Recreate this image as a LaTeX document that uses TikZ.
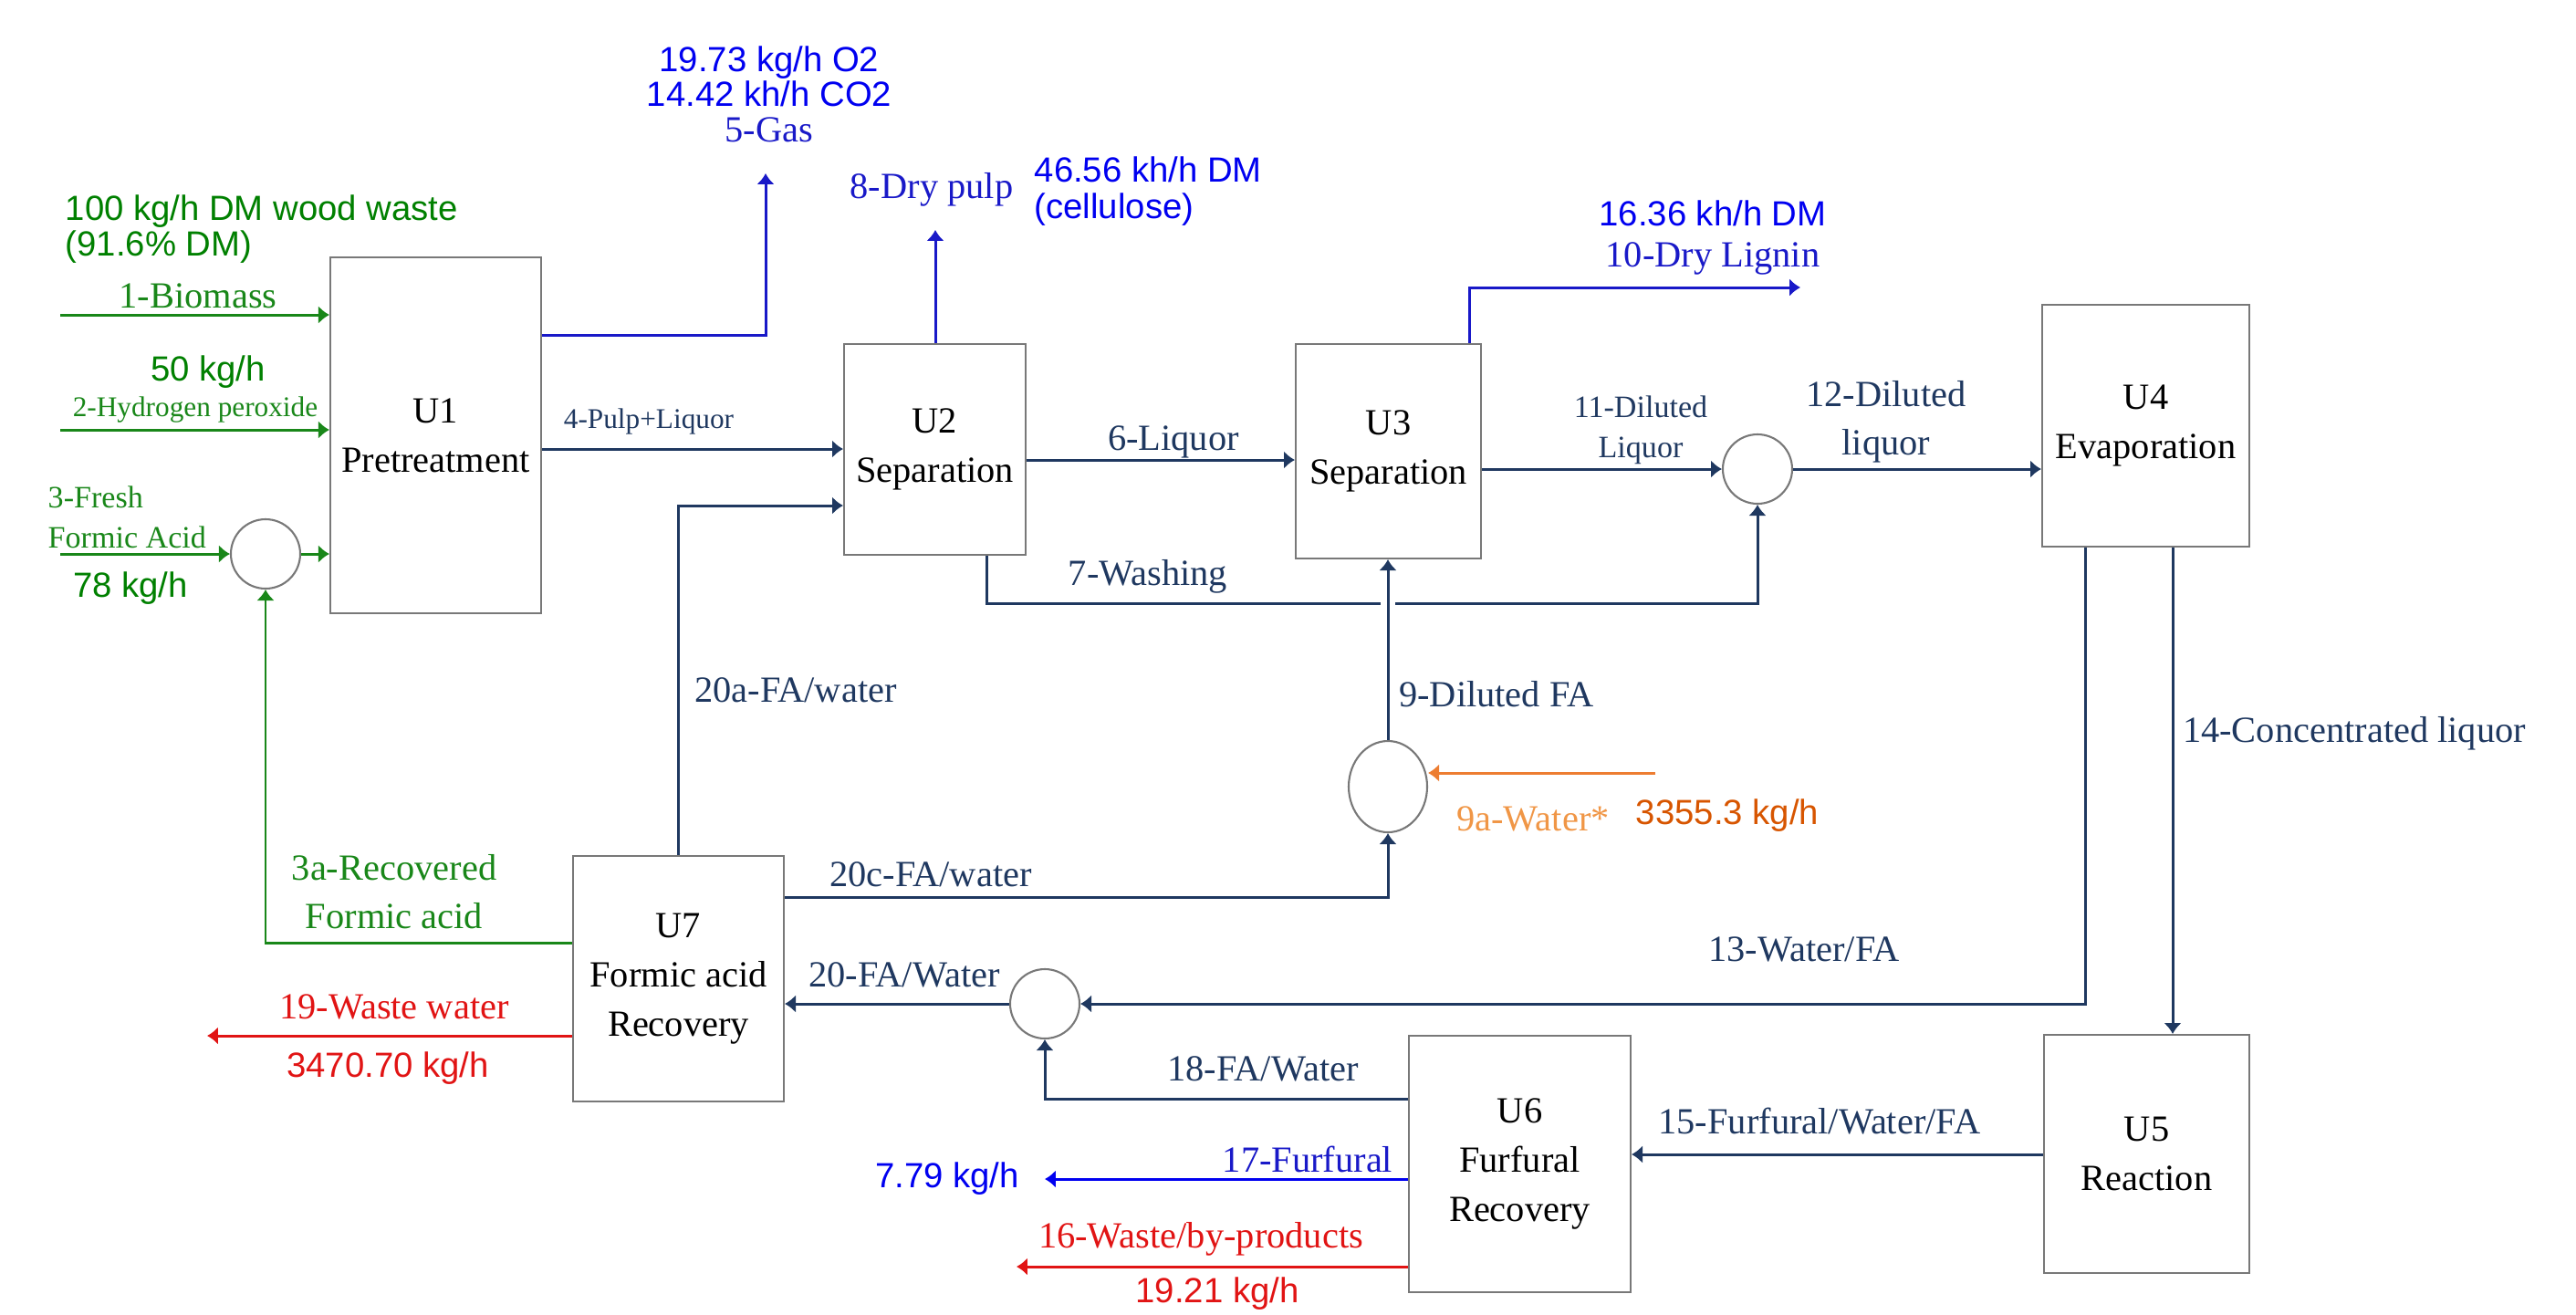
\documentclass[tikz,border=0pt]{standalone}
\usepackage{fontspec}
\setmainfont{Liberation Serif}
\setsansfont{Liberation Sans}
\usetikzlibrary{arrows.meta,shapes.geometric}

\definecolor{flow}{RGB}{31,56,96}
\definecolor{boxgray}{RGB}{120,120,120}
\definecolor{fgreen}{RGB}{25,135,25}
\definecolor{ngreen}{RGB}{0,128,0}
\definecolor{fblue}{RGB}{25,25,200}
\definecolor{nblue}{RGB}{0,0,240}
\definecolor{fred}{RGB}{225,20,20}
\definecolor{forange}{RGB}{237,125,49}
\definecolor{lorange}{RGB}{240,150,70}
\definecolor{dorange}{RGB}{215,85,0}

\tikzset{
  unit/.style={draw=boxgray, line width=0.6pt, align=center, inner sep=0pt,
    font=\fontsize{11.5}{15.3}\selectfont},
  mixer/.style={circle, draw=boxgray, line width=0.6pt, minimum size=0.76cm, inner sep=0pt},
  stream/.style={draw=flow, line width=0.85pt, -{Latex[length=3.4pt,width=5.6pt]}},
  feed/.style={stream, draw=fgreen},
  gasline/.style={stream, draw=fblue},
  redline/.style={stream, draw=fred},
  waterline/.style={stream, draw=forange},
  lbl/.style={text=flow, inner sep=0pt, align=center, font=\fontsize{11.5}{15}\selectfont},
  lblmid/.style={lbl, font=\fontsize{9.7}{12.5}\selectfont},
  lblsmall/.style={lbl, font=\fontsize{8.9}{11}\selectfont},
  num/.style={inner sep=0pt, align=center, font=\sffamily\fontsize{10.9}{11}\selectfont}
}

\begin{document}
\begin{tikzpicture}
    \useasboundingbox (0,0) rectangle (28.23,-14.40);

    % process units
    \node[unit, minimum width=2.31cm, minimum height=3.90cm] (U1) at (4.775,-4.77) {U1\\Pretreatment};
    \node[unit, minimum width=1.99cm, minimum height=2.31cm] (U2) at (10.245,-4.925) {U2\\Separation};
    \node[unit, minimum width=2.03cm, minimum height=2.35cm] (U3) at (15.215,-4.945) {U3\\Separation};
    \node[unit, minimum width=2.27cm, minimum height=2.65cm] (U4) at (23.515,-4.665) {U4\\Evaporation};
    \node[unit, minimum width=2.25cm, minimum height=2.61cm] (U5) at (23.525,-12.645) {U5\\Reaction};
    \node[unit, minimum width=2.43cm, minimum height=2.81cm] (U6) at (16.655,-12.755) {U6\\Furfural\\Recovery};
    \node[unit, minimum width=2.31cm, minimum height=2.69cm] (U7) at (7.435,-10.725) {U7\\Formic acid\\Recovery};

    % mixers
    \node[mixer] (m1) at (2.91,-6.07) {};
    \node[mixer] (m2) at (19.26,-5.14) {};
    \node[mixer, ellipse, minimum width=0.86cm, minimum height=1.0cm] (m3) at (15.21,-8.62) {};
    \node[mixer] (m4) at (11.45,-11.0) {};

    % feeds
    \coordinate (s1) at (0.66,-3.45);
    \coordinate (s2) at (0.66,-4.71);
    \coordinate (s3) at (0.66,-6.07);
    \draw[feed] (s1) -- (s1 -| U1.west);
    \draw[feed] (s2) -- (s2 -| U1.west);
    \draw[feed] (s3) -- (m1);
    \draw[feed] (m1) -- (m1 -| U1.west);
    \draw[feed] (U7.west |- 0,-10.33) -| (m1);

    % products
    \coordinate (gas) at (8.39,-1.90);
    \coordinate (pulp) at (10.25,-2.52);
    \coordinate (lig) at (19.73,-3.15);
    \draw[gasline] (U1.east |- 0,-3.67) -| (gas);
    \draw[gasline] (U2.north -| pulp) -- (pulp);
    \draw[gasline] (U3.north -| 16.10,0) |- (lig);

    % main streams
    \draw[stream] (U1.east |- 0,-4.92) -- (U2.west |- 0,-4.92);
    \draw[stream] (U2.east |- 0,-5.04) -- (U3.west |- 0,-5.04);
    \draw[stream] (U3.east |- m2) -- (m2);
    \draw[stream] (m2) -- (m2 -| U4.west);
    \draw[stream] (U2.south -| 10.81,0) |- (m2 |- 0,-6.61) -- (m2);
    \coordinate (cross) at (m3 |- 0,-6.61);
    \draw[white, line width=2.2pt] ([xshift=-0.08cm]cross) -- ([xshift=0.08cm]cross);
    \draw[stream] (m3) -- (m3 |- U3.south);
    \coordinate (wat) at (18.14,-8.47);
    \draw[waterline] (wat) -- (m3.east |- wat);
    \draw[stream] (U7.east |- 0,-9.83) -| (m3);
    \draw[stream] (U7.north) |- (U2.west |- 0,-5.54);
    \draw[stream] (U4.south -| 22.85,0) |- (m4);
    \draw[stream] (U4.south -| 23.81,0) -- (U5.north -| 23.81,0);
    \draw[stream] (U5.west |- 0,-12.65) -- (U6.east |- 0,-12.65);
    \draw[stream] (U6.west |- 0,-12.04) -| (m4);
    \draw[stream] (m4) -- (m4 -| U7.east);

    % outlets
    \coordinate (furf) at (11.45,-12.92);
    \coordinate (byp) at (11.14,-13.88);
    \coordinate (ww) at (2.27,-11.35);
    \draw[gasline, draw=nblue] (U6.west |- furf) -- (furf);
    \draw[redline] (U6.west |- byp) -- (byp);
    \draw[redline] (U7.west |- ww) -- (ww);

    % labels
    \node[num, text=nblue] (tgas) at (8.43,-1.03) {19.73 kg/h O2\\14.42 kh/h CO2\\\rmfamily\fontsize{11.5}{11}\selectfont\color{fblue}5-Gas};
    \node[lbl, text=fblue] (tpulp) at (10.21,-2.08) {8-Dry pulp};
    \node[num, text=nblue, align=left, anchor=west, font=\sffamily\fontsize{10.9}{11.4}\selectfont] (tcell) at (11.33,-2.10) {46.56 kh/h DM\\(cellulose)};
    \node[num, text=nblue] (tlig1) at (18.77,-2.34) {16.36 kh/h DM};
    \node[lbl, text=fblue] (tlig2) at (18.77,-2.83) {10-Dry Lignin};
    \node[num, text=ngreen, align=left, anchor=west] (twood) at (0.71,-2.51) {100 kg/h DM wood waste\\(91.6\% DM)};
    \node[lbl, text=fgreen] (t1) at (2.17,-3.24) {1-Biomass};
    \node[num, text=ngreen] (t2a) at (2.28,-4.08) {50 kg/h};
    \node[lblsmall, text=fgreen] (t2) at (2.14,-4.49) {2-Hydrogen peroxide};
    \node[lblmid, text=fgreen, align=left, anchor=west] (t3) at (0.52,-5.67) {3-Fresh\\Formic Acid};
    \node[num, text=ngreen] (t3a) at (1.43,-6.45) {78 kg/h};
    \node[lblsmall] (t4) at (7.11,-4.62) {4-Pulp+Liquor};
    \node[lbl] (t6) at (12.86,-4.84) {6-Liquor};
    \node[lblmid] (t11) at (17.98,-4.71) {11-Diluted\\Liquor};
    \node[lbl, font=\fontsize{11.5}{15.1}\selectfont] (t12) at (20.67,-4.62) {12-Diluted\\liquor};
    \node[lbl] (t7) at (12.58,-6.32) {7-Washing};
    \node[lbl] (t20a) at (8.72,-7.56) {20a-FA/water};
    \node[lbl] (t9) at (16.40,-7.61) {9-Diluted FA};
    \node[lbl] (t14) at (25.80,-8.04) {14-Concentrated liquor};
    \node[lbl, text=lorange] (t9a) at (16.80,-8.97) {9a-Water*};
    \node[num, text=dorange] (t9b) at (18.93,-8.94) {3355.3 kg/h};
    \node[lbl, text=fgreen] (t3r) at (4.32,-9.77) {3a-Recovered\\Formic acid};
    \node[lbl] (t20c) at (10.20,-9.58) {20c-FA/water};
    \node[lbl] (t13) at (19.77,-10.40) {13-Water/FA};
    \node[lbl] (t20) at (9.91,-10.68) {20-FA/Water};
    \node[lbl, text=fred] (t19) at (4.32,-11.03) {19-Waste water};
    \node[num, text=fred] (t19a) at (4.25,-11.71) {3470.70 kg/h};
    \node[lbl] (t18) at (13.84,-11.71) {18-FA/Water};
    \node[lbl] (t15) at (19.94,-12.29) {15-Furfural/Water/FA};
    \node[lbl, text=fblue] (t17) at (14.33,-12.70) {17-Furfural};
    \node[num, text=nblue] (t17a) at (10.38,-12.92) {7.79 kg/h};
    \node[lbl, text=fred] (t16) at (13.16,-13.58) {16-Waste/by-products};
    \node[num, text=fred] (t16a) at (13.34,-14.18) {19.21 kg/h};
\end{tikzpicture}
\end{document}
